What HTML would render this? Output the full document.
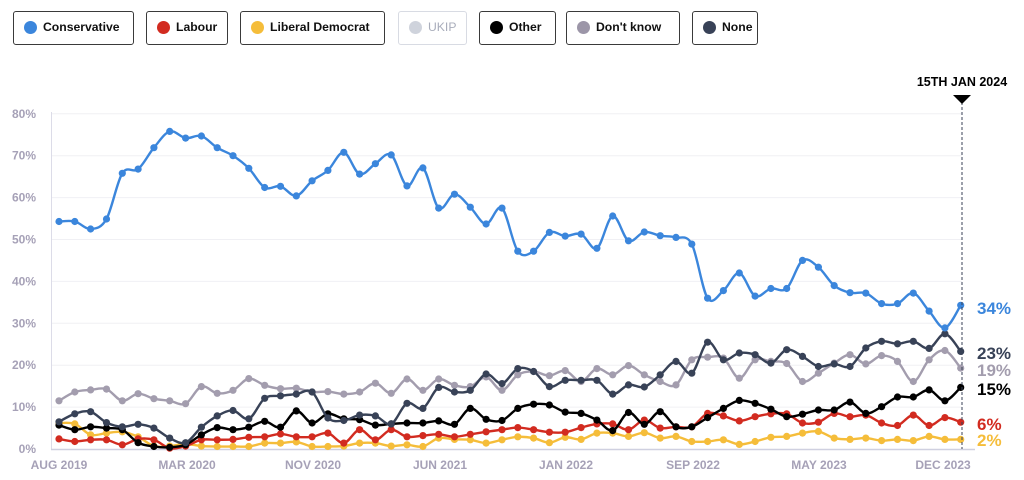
<!DOCTYPE html>
<html><head><meta charset="utf-8"><style>
body{margin:0;background:#fff;width:1024px;height:480px;overflow:hidden;font-family:"Liberation Sans",sans-serif;}
.lg{position:absolute;top:11px;height:34px;border:1.5px solid #3a3a3a;border-radius:3px;box-sizing:border-box;font-weight:bold;font-size:12.2px;color:#111;}
.lg span.d{position:absolute;left:10px;top:9px;width:13px;height:13px;border-radius:50%;}
.lg span.t{position:absolute;left:29px;top:8px;white-space:nowrap;}
</style></head><body>
<div class="lg" style="left:13px;width:121px"><span class="d" style="background:#3b86dc"></span><span class="t">Conservative</span></div>
<div class="lg" style="left:146px;width:82px"><span class="d" style="background:#d22b20"></span><span class="t">Labour</span></div>
<div class="lg" style="left:240px;width:145px"><span class="d" style="background:#f5bd3a"></span><span class="t">Liberal Democrat</span></div>
<div class="lg" style="left:398px;width:69px;border-color:#d8dbe3;color:#a9adbb;font-weight:normal"><span class="d" style="background:#cfd3dc"></span><span class="t">UKIP</span></div>
<div class="lg" style="left:479px;width:77px"><span class="d" style="background:#000"></span><span class="t">Other</span></div>
<div class="lg" style="left:566px;width:114px"><span class="d" style="background:#9c96a8"></span><span class="t">Don't know</span></div>
<div class="lg" style="left:692px;width:66px"><span class="d" style="background:#384257"></span><span class="t">None</span></div>
<svg id="s" width="1024" height="480" style="position:absolute;left:0;top:0" font-family="Liberation Sans, sans-serif"></svg>
<script>
var s=document.getElementById('s'),h='';
function Y(v){return 449-v*4.19;}
function X(i){return 59+i*15.82;}
for(var g=0;g<=8;g++){var y=Y(g*10);
 if(g>0)h+='<line x1="52" x2="962" y1="'+y+'" y2="'+y+'" stroke="#f0f0f4" stroke-width="1"/>';
 h+='<text x="36" y="'+(y+4)+'" text-anchor="end" font-size="12" font-weight="bold" fill="#a6a1b7">'+(g*10)+'%</text>';}
h+='<line x1="51.5" x2="51.5" y1="112" y2="449" stroke="#dcdce8" stroke-width="1"/>';
h+='<line x1="51" x2="975" y1="449.5" y2="449.5" stroke="#cfd0e0" stroke-width="1.5"/>';
var xl=[["AUG 2019",59],["MAR 2020",187],["NOV 2020",313],["JUN 2021",440],["JAN 2022",566],["SEP 2022",693],["MAY 2023",819],["DEC 2023",943]];
xl.forEach(function(a){h+='<text x="'+a[1]+'" y="469" text-anchor="middle" font-size="12" font-weight="bold" fill="#a6a1b7">'+a[0]+'</text>';});
var D={
dk:[11.5,13.6,14.1,14.3,11.5,13.2,12,11.5,10.8,14.9,13.3,14,16.8,15.2,14.4,14.5,13.6,13.7,13.1,13.6,15.7,13.3,16.7,14,16.7,15.2,14.9,17.2,14,17.7,18.5,17.5,18.7,16.1,19.2,17.7,19.9,17.7,16.1,15.3,21.3,21.9,21.7,16.9,21.3,20.9,20.4,16.1,18.1,20.5,22.5,20.3,22.3,20.9,16.1,21.3,23.5,19.3],
none:[6.5,8.4,8.9,6.3,5.3,5.9,5,2.6,1.5,5.2,7.9,9.2,7.2,12.1,12.7,13.1,13.6,7.4,6.8,8.1,7.9,6,10.9,9.7,14.7,13.6,14,17.9,15.6,19.2,18.5,14.9,16.4,16.4,16.4,13.1,15.3,14.8,17.7,20.9,18.1,25.5,21.3,22.9,22.5,20.5,23.7,22.1,19.7,20.3,19.7,24.1,25.7,25.1,25.7,24,27.5,23.3],
ld:[6.2,6,3.4,3.8,4.1,2.9,0.7,0.7,1.2,0.7,0.6,0.6,0.6,1.4,1.4,1.7,0.6,0.6,0.7,1.4,1.4,0.7,1,0.6,2.6,2.3,2.2,1.4,2.2,2.9,2.6,1.5,2.8,2.3,3.8,3.8,3,3.9,2.6,3,1.8,1.8,2.2,1.1,1.8,2.8,3,3.8,4.2,2.6,2.3,2.6,2,2.3,2,3,2.3,2.3],
lab:[2.4,1.8,2.2,2.2,1,2.4,2.2,0.2,0.7,2.2,2.2,2.3,2.8,2.9,3.6,2.9,2.9,3.8,1.4,4.6,2.2,4.6,2.9,3.2,3.5,2.9,3.5,4.1,4.6,5.1,4.6,4,4,5.1,6,6,4.6,6.9,5,5.3,5.3,8.5,7.9,6.7,7.7,8.4,8.4,6.2,6.4,8.5,7.7,8.1,6.2,5.6,8.1,5.6,7.5,6.4],
oth:[5.7,4.6,5.3,5,4.6,1.5,0.6,0.4,1,3.4,5.1,4.6,5.2,6.6,5.2,9.1,6.2,8.4,7.2,7,5.7,6,6.2,6.2,6.7,5.9,9.7,7.1,6.8,9.7,10.7,10.5,8.8,8.5,6.9,4.4,8.7,5.9,8.9,5.3,5.3,7.5,9.7,11.6,10.9,9.5,7.7,8.3,9.3,9.3,11.2,8.5,10.1,12.4,12.4,14.1,11.5,14.7],
con:[54.3,54.3,52.5,54.9,65.8,66.8,71.9,75.8,74.2,74.7,71.9,70,67,62.4,62.7,60.4,64,66.5,70.8,65.6,68.1,70.2,62.8,67.1,57.5,60.8,57.7,53.7,57.5,47.2,47.2,51.7,50.8,51.3,47.9,55.6,49.7,51.8,50.9,50.5,48.9,36,37.8,42,36.5,38.3,38.3,45,43.4,39,37.3,37.2,34.7,34.7,37.2,32.9,28.9,34.3]};
function path(v){var p=v.map(function(a,i){return[X(i),Y(a)];}),d='M'+p[0][0]+','+p[0][1];
 for(var i=0;i<p.length-1;i++){var p0=p[i>0?i-1:i],p1=p[i],p2=p[i+1],p3=p[i+2<p.length?i+2:i+1],t=6;
  d+=' C'+(p1[0]+(p2[0]-p0[0])/t).toFixed(1)+','+(p1[1]+(p2[1]-p0[1])/t).toFixed(1)+' '+(p2[0]-(p3[0]-p1[0])/t).toFixed(1)+','+(p2[1]-(p3[1]-p1[1])/t).toFixed(1)+' '+p2[0].toFixed(1)+','+p2[1].toFixed(1);}
 return d;}
[["dk","#a39dae"],["ld","#f5bd3a"],["lab","#d22b20"],["oth","#000"],["none","#384257"],["con","#3b86dc"]].forEach(function(a){
 var v=D[a[0]];h+='<path d="'+path(v)+'" fill="none" stroke="'+a[1]+'" stroke-width="2.4" stroke-linejoin="round"/>';
 v.forEach(function(u,i){h+='<circle cx="'+X(i).toFixed(1)+'" cy="'+Y(u).toFixed(1)+'" r="3.6" fill="'+a[1]+'"/>';});});
h+='<line x1="962" x2="962" y1="102" y2="449" stroke="#384257" stroke-width="1" stroke-dasharray="3,2"/>';
h+='<polygon points="953,95 971,95 962,104" fill="#000"/>';
h+='<text x="962" y="86" text-anchor="middle" font-size="12.5" font-weight="bold" fill="#000">15TH JAN 2024</text>';
[["34%",314,"#3b86dc"],["23%",359,"#384257"],["19%",376,"#a39dae"],["15%",395,"#000"],["6%",430,"#d22b20"],["2%",446,"#f5bd3a"]].forEach(function(a){
 h+='<text x="977" y="'+a[1]+'" font-size="17" font-weight="bold" fill="'+a[2]+'">'+a[0]+'</text>';});
s.innerHTML=h;
</script>
</body></html>
